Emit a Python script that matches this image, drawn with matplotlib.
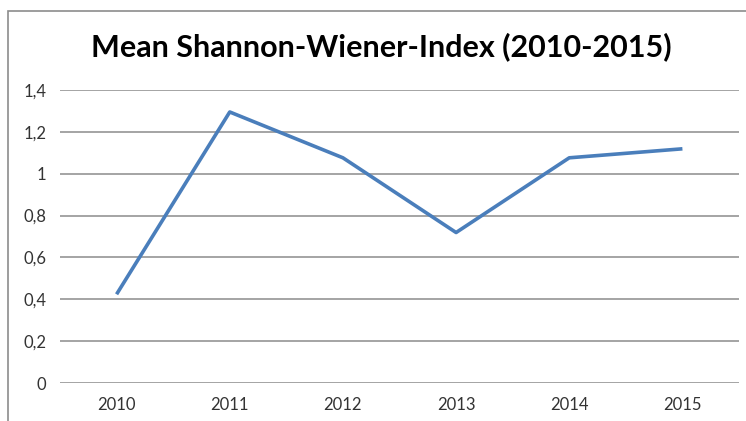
import matplotlib.pyplot as plt
from matplotlib.patches import Rectangle
from matplotlib.ticker import FuncFormatter

years = ['2010', '2011', '2012', '2013', '2014', '2015']
mean_index = [0.424, 1.295, 1.076, 0.719, 1.076, 1.119]
y_ticks = [0, 0.2, 0.4, 0.6, 0.8, 1.0, 1.2, 1.4]

plt.rcParams['font.family'] = ['Lato', 'DejaVu Sans']

fig = plt.figure(figsize=(7.46, 4.21), dpi=100)
# outer chart frame (cut off at right and bottom like the screenshot)
fig.patches.append(Rectangle((8 / 746, -0.1), 1.2, (421 - 11) / 421 + 0.1,
                             transform=fig.transFigure, fill=False,
                             edgecolor='#8c8c8c', linewidth=1.2))

ax = fig.add_axes([60 / 746, 38 / 421, 679 / 746, 293 / 421])
x = list(range(len(years)))
ax.plot(x, mean_index, color='#4a7ebb', linewidth=2.6, solid_capstyle='butt')

ax.set_xlim(-0.5, len(years) - 0.5)
ax.set_ylim(0, 1.4)
ax.set_yticks(y_ticks)
ax.yaxis.set_major_formatter(FuncFormatter(lambda v, p: ('%g' % round(v, 1)).replace('.', ',')))
ax.set_xticks(x)
ax.set_xticklabels(years)
ax.grid(axis='y', color='#8c8c8c', linewidth=1.1)
ax.set_axisbelow(True)
for s in ax.spines.values():
    s.set_visible(False)
ax.tick_params(length=0, labelsize=12, colors='#333333')
ax.tick_params(axis='y', pad=10)
ax.tick_params(axis='x', pad=10)

fig.text(381 / 746, 1 - 47 / 421, 'Mean Shannon-Wiener-Index (2010-2015)',
         ha='center', va='center', fontsize=22, fontweight='bold', color='black')

fig.savefig('out.png', dpi=100)
